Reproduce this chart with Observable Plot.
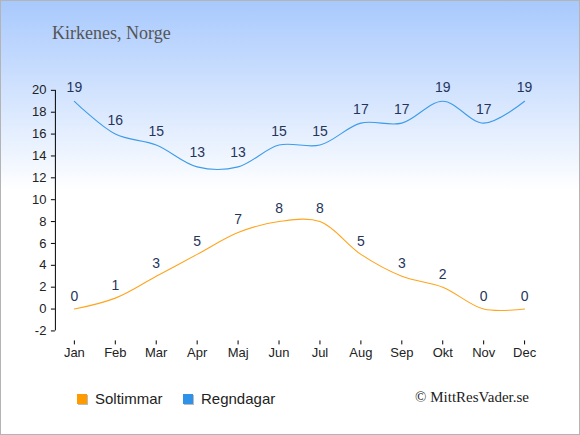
<!DOCTYPE html>
<html>
<head>
<meta charset="utf-8">
<script src="https://cdn.jsdelivr.net/npm/d3@7"></script>
<script src="https://cdn.jsdelivr.net/npm/@observablehq/plot@0.6"></script>
<style>
  html, body { margin: 0; padding: 0; }
  #frame {
    position: relative; width: 578px; height: 433px;
    border: 1px solid #b4b4b4;
    background: linear-gradient(to bottom, #a8c9fd 0px, #ffffff 190px, #ffffff 100%);
    overflow: hidden;
  }
  #title {
    position: absolute; left: 51px; top: 22px;
    font-family: "Liberation Serif", serif; font-size: 18px; color: #555;
  }
  #chart { position: absolute; left: -1px; top: -1px; }
  .leg { position: absolute; top: 389px; font-family: "Liberation Sans", Arial, sans-serif; font-size: 15px; color: #222; }
  .sw { position: absolute; width: 10px; height: 10px; top: 4px; left: 0; box-shadow: 1px 1px 0 #bbb; }
  .leg span.t { margin-left: 18px; }
  #copy {
    position: absolute; right: 50px; top: 388px;
    font-family: "Liberation Serif", serif; font-size: 15px; color: #222;
  }
</style>
</head>
<body>
<div id="frame">
  <div id="title">Kirkenes, Norge</div>
  <div id="chart"></div>
  <div class="leg" style="left:76px"><div class="sw" style="background:#ff9a00"></div><span class="t">Soltimmar</span></div>
  <div class="leg" style="left:182px"><div class="sw" style="background:#2e93e8"></div><span class="t">Regndagar</span></div>
  <div id="copy">© MittResVader.se</div>
</div>
<script>
const months = ["Jan","Feb","Mar","Apr","Maj","Jun","Jul","Aug","Sep","Okt","Nov","Dec"];
const soltimmar = [0,1,3,5,7,8,8,5,3,2,0,0];
const regndagar = [19,16,15,13,13,15,15,17,17,19,17,19];
const yTicks = [-2,0,2,4,6,8,10,12,14,16,18,20];

const sun = months.map((m, i) => ({month: m, value: soltimmar[i]}));
const rain = months.map((m, i) => ({month: m, value: regndagar[i]}));

const font = "Liberation Sans, Arial, sans-serif";
const labelColor = "#25355a";

const plot = Plot.plot({
  width: 580,
  height: 370,
  marginLeft: 55,
  marginRight: 55,
  marginTop: 90,
  marginBottom: 29,
  style: {background: "transparent", fontFamily: font, overflow: "visible", color: "#222"},
  x: {type: "point", domain: months, padding: 0, insetLeft: 19},
  y: {domain: [-2, 20], insetBottom: 10},
  marks: [
    Plot.axisY({ticks: yTicks, tickFormat: d => String(d), tickSize: 4, tickPadding: 5, fontSize: 13, label: null, stroke: "#000"}),
    Plot.ruleX([months[0]], {y1: -2, y2: 20, dx: -19, stroke: "#000", strokeWidth: 1}),
    Plot.axisX({tickSize: 4, tickPadding: 3, fontSize: 13, label: null, stroke: "#000"}),
    Plot.ruleY([-2], {x1: months[0], x2: months[11], dy: 10, stroke: "#000", strokeWidth: 1}),
    // lines
    Plot.line(rain, {x: "month", y: "value", curve: "catmull-rom", stroke: "#3d9be9", strokeWidth: 1.1}),
    Plot.line(sun, {x: "month", y: "value", curve: "catmull-rom", stroke: "#ffa41c", strokeWidth: 1.1}),
    // labels
    Plot.text(rain, {x: "month", y: "value", text: d => String(d.value), dy: -14, fontSize: 14, fill: labelColor}),
    Plot.text(sun, {x: "month", y: "value", text: d => String(d.value), dy: -13, fontSize: 14, fill: labelColor})
  ]
});
document.getElementById("chart").appendChild(plot);
</script>
</body>
</html>
